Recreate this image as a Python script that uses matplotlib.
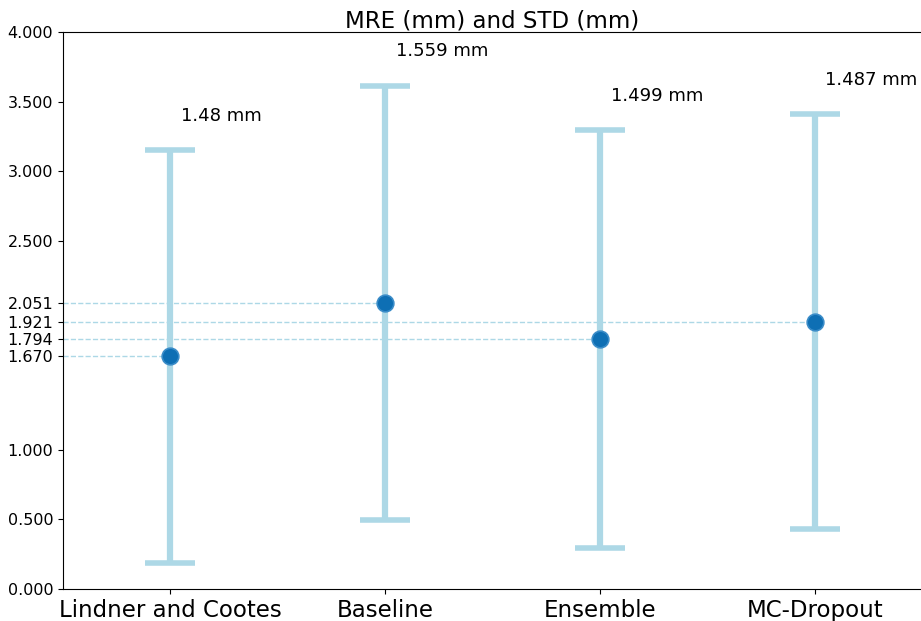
import numpy as np
import matplotlib.pyplot as plt

methods = ['Lindner and Cootes', 'Baseline', 'Ensemble', 'MC-Dropout']
mre = [1.670, 2.051, 1.794, 1.921]
std = [1.48, 1.559, 1.499, 1.487]
std_labels = ['1.48 mm', '1.559 mm', '1.499 mm', '1.487 mm']

fig = plt.figure(figsize=(9.21, 6.21), dpi=100)
ax = fig.add_axes([63 / 921, 32 / 621, (922 - 63) / 921, (589 - 32) / 621])
x = np.arange(len(methods))

# dashed guides from the y axis to each mean
for xi, m in zip(x, mre):
    ax.plot([-0.5, xi], [m, m], ls='--', lw=1, color='lightblue', zorder=1)

ax.errorbar(x, mre, yerr=std, fmt='none', ecolor='lightblue', elinewidth=4.5,
            capsize=18, capthick=4, zorder=2)
ax.plot(x, mre, 'o', ls='none', markersize=12, color='#0e6fb4',
        markeredgecolor='#3a8cc8', markeredgewidth=1.2, zorder=3)

for xi, m, s, lab in zip(x, mre, std, std_labels):
    ax.text(xi + 0.05, m + s + 0.25, lab, fontsize=13, va='center', ha='left')

ax.set_xlim(-0.5, 3.5)
ax.set_ylim(0, 4)
ax.set_xticks(x)
ax.set_xticklabels(methods, fontsize=16.5)
yt = [0, 0.5, 1.0, 1.670, 1.794, 1.921, 2.051, 2.5, 3.0, 3.5, 4.0]
ax.set_yticks(yt)
ax.set_yticklabels(['%.3f' % v for v in yt], fontsize=11.5)
ax.spines['right'].set_visible(False)
ax.set_title('MRE (mm) and STD (mm)', fontsize=16.5, pad=2)

fig.savefig('out.png', dpi=100)
